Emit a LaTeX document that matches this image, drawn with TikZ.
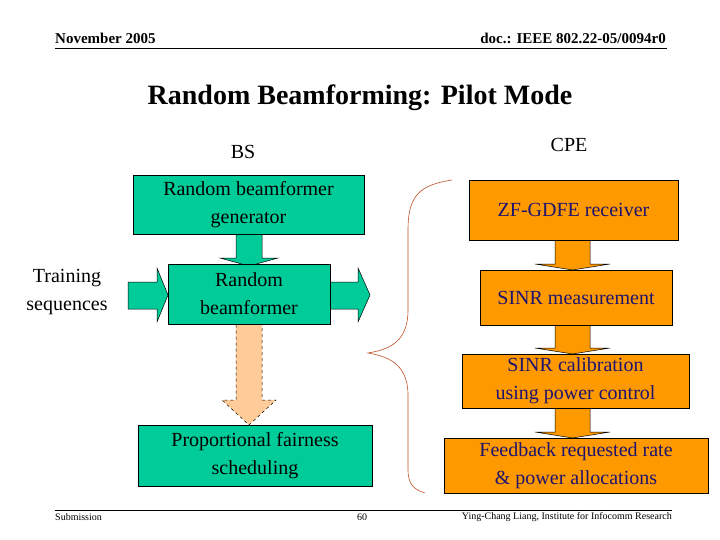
\documentclass[tikz,border=0pt]{standalone}
\usepackage{fontspec}
\setmainfont{Liberation Serif}
\begin{document}
\begin{tikzpicture}[x=1pt,y=-1pt,
 gbox/.style={draw=black,fill=grn,line width=0.6pt,inner sep=0pt,align=center,font=\fontsize{20}{28}\selectfont},
 obox/.style={draw=black,fill=org,line width=0.6pt,inner sep=0pt,align=center,text=navy,font=\fontsize{20}{28}\selectfont},
 garrow/.style={draw=black,fill=grn,line width=0.5pt},
 oarrow/.style={draw=black,fill=org,line width=0.5pt},
 lbl/.style={inner sep=0pt,font=\fontsize{20}{28}\selectfont}]
\definecolor{grn}{RGB}{0,204,153}
\definecolor{org}{RGB}{255,153,0}
\definecolor{peach}{RGB}{255,204,153}
\definecolor{navy}{RGB}{30,20,110}
\definecolor{brace}{RGB}{190,80,40}
\useasboundingbox (0,0) rectangle (720,540);
% header
\node[anchor=west,inner sep=0pt,font=\bfseries\fontsize{15}{18}\selectfont] (date) at (55,38) {November 2005};
\node[anchor=east,inner sep=0pt,font=\bfseries\fontsize{15}{18}\selectfont] (doc) at (666,38) {doc.: IEEE 802.22-05/0094r0};
\draw[line width=0.8pt] (55,48) -- (667,48);
\node[inner sep=0pt,font=\bfseries\fontsize{28}{32}\selectfont] (title) at (360,98) {Random Beamforming: Pilot Mode};
\node[lbl] (bs) at (243,152) {BS};
\node[lbl] (cpe) at (569,145) {CPE};
% arrows (behind boxes)
\draw[garrow] (236,233) -- (262,233) -- (262,258) -- (278,258) -- (249,266) -- (220,258) -- (236,258) -- cycle;
\draw[garrow] (128,282) -- (157,282) -- (157,268) -- (168,295) -- (157,322) -- (157,309) -- (128,309) -- cycle;
\draw[garrow] (330,282) -- (358,282) -- (358,268) -- (370,295) -- (358,322) -- (358,309) -- (330,309) -- cycle;
\draw[fill=peach,draw=black,dashed,line width=0.5pt] (236,324) -- (262,324) -- (262,400) -- (276,400) -- (249,425) -- (222,400) -- (236,400) -- cycle;
\foreach \ya/\yb in {240/270, 325/354, 408/438}{
 \draw[oarrow] (555,\ya) -- (590,\ya) -- (590,\yb-6) -- (610,\yb-6) -- (572.5,\yb) -- (535,\yb-6) -- (555,\yb-6) -- cycle;}
% boxes
\node[gbox,minimum width=231pt,minimum height=59pt] (gen) at (248.5,204.5) {Random beamformer\\generator};
\node[gbox,minimum width=162pt,minimum height=60pt] (rb) at (249,294) {Random\\beamformer};
\node[gbox,minimum width=234pt,minimum height=61pt] (pf) at (255,455.5) {Proportional fairness\\scheduling};
\node[lbl,align=center] (ts) at (67,292) {Training\\sequences};
\node[obox,minimum width=209pt,minimum height=60pt] (zf) at (573.5,210) {ZF-GDFE receiver};
\node[obox,minimum width=192pt,minimum height=55pt] (sm) at (576,297.5) {SINR measurement};
\node[obox,minimum width=227pt,minimum height=54pt] (cal) at (575.5,381) {SINR calibration\\using power control};
\node[obox,minimum width=264pt,minimum height=55pt] (fb) at (576,465.5) {Feedback requested rate\\\& power allocations};
% brace
\draw[brace,line width=0.6pt] (452,180) .. controls (420,185) and (408,195) .. (408,230) -- (408,310) .. controls (408,345) and (385,350) .. (368,353) .. controls (385,356) and (408,362) .. (408,395) -- (408,470) .. controls (408,485) and (415,490) .. (425,493);
% footer
\draw[line width=0.6pt] (55,510) -- (672,510);
\node[anchor=west,inner sep=0pt,font=\fontsize{10}{12}\selectfont] (sub) at (55,517) {Submission};
\node[inner sep=0pt,font=\fontsize{10}{12}\selectfont] (pg) at (362,517) {60};
\node[anchor=east,inner sep=0pt,font=\fontsize{10}{12}\selectfont] (auth) at (672,517) {Ying-Chang Liang, Institute for Infocomm Research};
\end{tikzpicture}
\end{document}
